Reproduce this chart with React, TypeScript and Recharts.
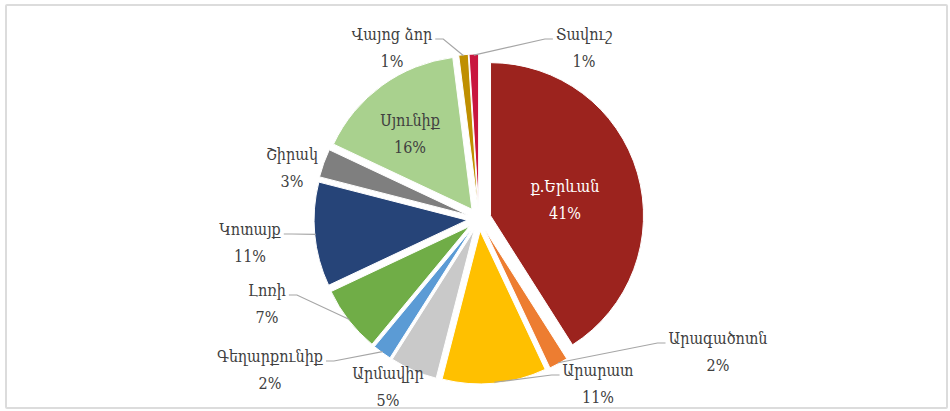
import React from 'react';
import { PieChart, Pie, Cell, Sector } from 'recharts';

// Regions (clockwise from 12 o'clock) and their shares, %
const categories = [
  'ք.Երևան',
  'Արագածոտն',
  'Արարատ',
  'Արմավիր',
  'Գեղարքունիք',
  'Լոռի',
  'Կոտայք',
  'Շիրակ',
  'Սյունիք',
  'Վայոց ձոր',
  'Տավուշ',
];
const shares = [41, 2, 11, 5, 2, 7, 11, 3, 16, 1, 1];
const colors = [
  '#9C231E',
  '#ED7D31',
  '#FFC000',
  '#C9C9C9',
  '#5B9BD5',
  '#70AD47',
  '#264478',
  '#7F7F7F',
  '#A9D18E',
  '#BF8F00',
  '#C8163E',
];

// label layout (offset of label centre from pie centre) and leader flags
const labelOffsets: [number, number][] = [
  [86, -19],
  [239, 133],
  [119, 165],
  [-91, 168],
  [-209, 151],
  [-212, 85],
  [-229, 24],
  [-187, -51],
  [-69, -85],
  [-87, -171],
  [105, -171],
];
const leaderLines = [false, true, true, false, true, true, true, false, false, true, true];

const FONT = '"DejaVu Serif Condensed", "DejaVu Serif", serif';
const FONT_SIZE = 16;
const EXPLODE = 12;
const RADIAN = Math.PI / 180;

const data = categories.map((name, i) => ({ name, value: shares[i] }));

let ctx: CanvasRenderingContext2D | null = null;
function textWidth(s: string): number {
  if (!ctx) {
    const c = document.createElement('canvas');
    ctx = c.getContext('2d');
  }
  if (!ctx) return s.length * 9;
  ctx.font = `${FONT_SIZE}px ${FONT}`;
  return ctx.measureText(s).width;
}

const ExplodedSector = (props: any) => {
  const { cx, cy, midAngle } = props;
  const ox = EXPLODE * Math.cos(-midAngle * RADIAN);
  const oy = EXPLODE * Math.sin(-midAngle * RADIAN);
  return (
    <Sector
      cx={cx + ox}
      cy={cy + oy}
      innerRadius={props.innerRadius}
      outerRadius={props.outerRadius}
      startAngle={props.startAngle}
      endAngle={props.endAngle}
      fill={props.fill}
      stroke="#ffffff"
      strokeWidth={1}
    />
  );
};

const renderLabel = (props: any) => {
  const { cx, cy, midAngle, outerRadius, index } = props;
  const name = categories[index];
  const [dx, dy] = labelOffsets[index];
  const x = cx + dx;
  const y = cy + dy;
  const fill = index === 0 ? '#FFFFFF' : '#404040';
  let line: React.ReactNode = null;
  if (leaderLines[index]) {
    const w = textWidth(name);
    const ly = y - 9;
    const edgeX = dx < 0 ? x + w / 2 + 3 : x - w / 2 - 3;
    const bendX = dx < 0 ? edgeX + 8 : edgeX - 8;
    const r = outerRadius + EXPLODE - 1;
    const px = cx + r * Math.cos(-midAngle * RADIAN);
    const py = cy + r * Math.sin(-midAngle * RADIAN);
    line = (
      <polyline
        points={`${edgeX},${ly} ${bendX},${ly} ${px},${py}`}
        fill="none"
        stroke="#A6A6A6"
        strokeWidth={1.2}
      />
    );
  }
  return (
    <g key={`lbl-${index}`}>
      {line}
      <text
        x={x}
        y={y - 8}
        textAnchor="middle"
        fill={fill}
        fontFamily={FONT}
        fontSize={FONT_SIZE}
      >
        {name}
      </text>
      <text
        x={x}
        y={y + 19}
        textAnchor="middle"
        fill={fill}
        fontFamily={FONT}
        fontSize={FONT_SIZE}
      >
        {`${shares[index]}%`}
      </text>
    </g>
  );
};

export default function App() {
  return (
    <div
      style={{
        position: 'absolute',
        left: 0,
        top: 0,
        width: 950,
        height: 411,
        background: '#ffffff',
        overflow: 'hidden',
      }}
    >
      <div
        style={{
          position: 'absolute',
          left: 5,
          top: 4,
          width: 939,
          height: 401,
          border: '2px solid #DCDCDC',
          borderRadius: 2,
        }}
      />
      <div style={{ position: 'absolute', left: 0, top: 0 }}>
        <PieChart width={950} height={411}>
          <Pie
            data={data}
            dataKey="value"
            nameKey="name"
            cx={474}
            cy={214}
            outerRadius={153}
            startAngle={90}
            endAngle={-270}
            stroke="#ffffff"
            strokeWidth={1}
            isAnimationActive={false}
            label={renderLabel}
            labelLine={false}
            shape={ExplodedSector}
          >
            {data.map((d, i) => (
              <Cell key={d.name} fill={colors[i]} />
            ))}
          </Pie>
        </PieChart>
      </div>
    </div>
  );
}
